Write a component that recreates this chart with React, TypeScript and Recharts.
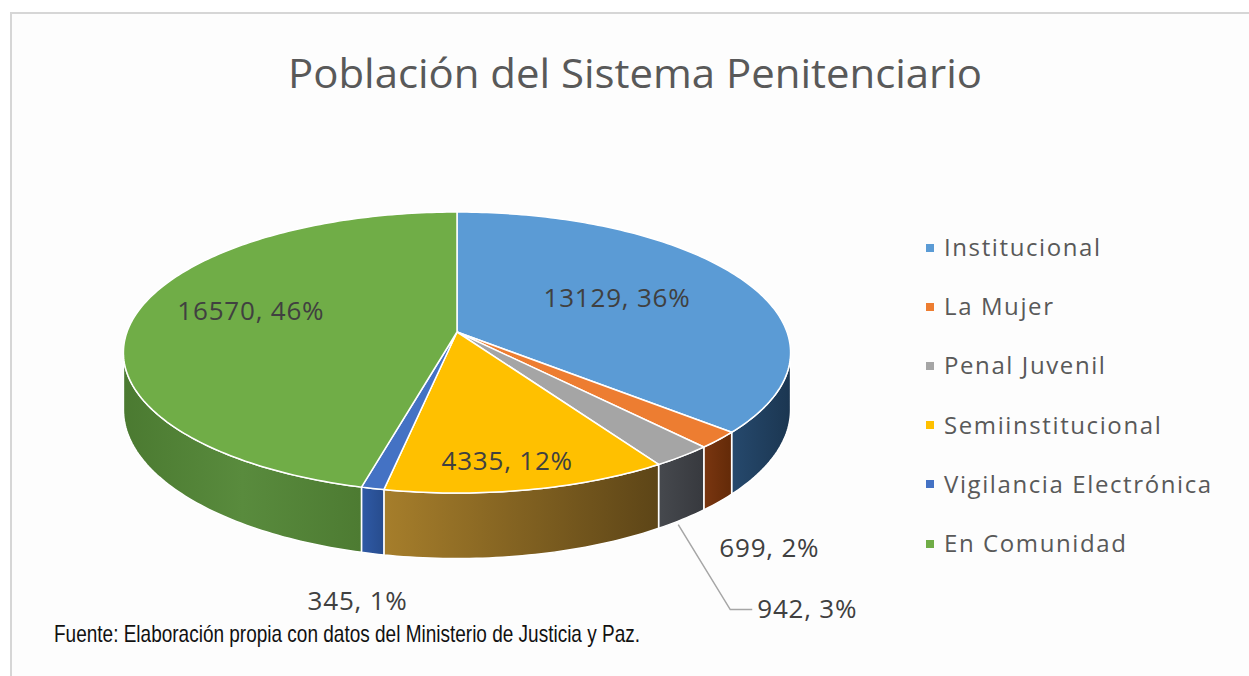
import React from 'react';
import { PieChart, Pie, Cell, Legend } from 'recharts';

const categories = ['Institucional', 'La Mujer', 'Penal Juvenil', 'Semiinstitucional', 'Vigilancia Electrónica', 'En Comunidad'];
const population = [13129, 699, 942, 4335, 345, 16570];
const topColors = ['#5b9bd5', '#ed7d31', '#a5a5a5', '#ffc000', '#4472c4', '#70ad47'];
// stops for the darker 3D walls, left to right
const sideColors = [
  ['#26496d', '#1b3651'],
  ['#7a3610', '#632a08'],
  ['#46494e', '#37393e'],
  ['#a67e2b', '#5d4517'],
  ['#2f5aa6', '#274c8d'],
  ['#4b7a31', '#598b3d', '#4d7b32'],
];

const chartTitle = 'Población del Sistema Penitenciario';
const sourceNote = 'Fuente: Elaboración propia con datos del Ministerio de Justicia y Paz.';

const data = categories.map((name, i) => ({ name, value: population[i] }));

// fake 3D: tilted disc seen in perspective
const TILT = 0.4167;
const PERSP = 0.146;
const DEPTH = 56;
const EDGE = (Math.asin(PERSP) * 180) / Math.PI;

function project(cx: number, cy: number, r: number, f: number, deg: number, drop = 0) {
  const t = (deg * Math.PI) / 180;
  const u = f * Math.cos(t);
  const w = f * Math.sin(t);
  const s = 1 + PERSP * w;
  return [cx + (r * u) / s, cy + (-TILT * r * w + drop) / s];
}

function arc(cx: number, cy: number, r: number, a: number, b: number, drop = 0) {
  const n = Math.max(2, Math.ceil(Math.abs(b - a)) + 1);
  const pts: number[][] = [];
  for (let k = 0; k < n; k++) pts.push(project(cx, cy, r, 1, a + ((b - a) * k) / (n - 1), drop));
  return pts;
}

const toPath = (pts: number[][]) => 'M' + pts.map((p) => p[0].toFixed(2) + ',' + p[1].toFixed(2)).join('L') + 'Z';

const Slice = (props: any) => {
  const { cx, cy, outerRadius, startAngle, endAngle, fill } = props;
  const name = props.name ?? props.payload?.name;
  const i = categories.indexOf(name);
  const lo = Math.min(startAngle, endAngle);
  const hi = Math.max(startAngle, endAngle);
  const walls: React.ReactNode[] = [];
  [-1, 0, 1].forEach((n) => {
    const a = Math.max(lo, -180 + EDGE + 360 * n);
    const b = Math.min(hi, -EDGE + 360 * n);
    if (b > a) {
      const top = arc(cx, cy, outerRadius, a, b);
      const bottom = arc(cx, cy, outerRadius, b, a, DEPTH);
      walls.push(
        <path key={n} d={toPath([...top, ...bottom])} fill={`url(#wall-${i})`} stroke="#ffffff" strokeWidth={1.5} strokeLinejoin="round" />
      );
    }
  });
  const stops = sideColors[i] || ['#666', '#444'];
  return (
    <g>
      <defs>
        <linearGradient id={`wall-${i}`} x1="0" y1="0" x2="1" y2="0">
          {stops.map((c, k) => (
            <stop key={k} offset={k / (stops.length - 1)} stopColor={c} />
          ))}
        </linearGradient>
      </defs>
      {walls}
      <path d={toPath([[cx, cy], ...arc(cx, cy, outerRadius, hi, lo)])} fill={fill} stroke="#ffffff" strokeWidth={1.5} strokeLinejoin="round" />
    </g>
  );
};

// where each data label sits: inside the top (f) or under the wall
const labelSpots = [
  { f: 0.55, dx: 0, dy: -5 },
  { f: 1, wall: true, dx: 51, dy: 45 },
  { f: 1, wall: true, dx: 75, dy: 88, leader: true },
  { f: 0.835, dx: -8, dy: 0 },
  { f: 1, wall: true, dx: -15, dy: 46 },
  { f: 0.59, dx: -15, dy: -12 },
];

const renderLabel = (props: any) => {
  const { cx, cy, outerRadius, midAngle, value, percent } = props;
  const name = props.name ?? props.payload?.name;
  const i = categories.indexOf(name);
  const spot = labelSpots[i];
  const [ax, ay] = project(cx, cy, outerRadius, spot.f, midAngle, spot.wall ? DEPTH : 0);
  const text = `${value}, ${Math.round(percent * 100)}%`;
  const style = { fontFamily: '"Open Sans", sans-serif', fontSize: 26, letterSpacing: 0.8, fill: '#404040' };
  if (spot.leader) {
    return (
      <g key={`lbl-${i}`}>
        <polyline
          points={`${ax - 4},${ay + 5} ${ax + spot.dx - 27},${ay + spot.dy + 2} ${ax + spot.dx - 5},${ay + spot.dy + 2}`}
          fill="none"
          stroke="#a6a6a6"
          strokeWidth={1.5}
        />
        <text x={ax + spot.dx} y={ay + spot.dy} textAnchor="start" dominantBaseline="central" style={style}>
          {text}
        </text>
      </g>
    );
  }
  return (
    <text key={`lbl-${i}`} x={ax + spot.dx} y={ay + spot.dy} textAnchor="middle" dominantBaseline="central" style={style}>
      {text}
    </text>
  );
};

const LegendList = () => (
  <div style={{ fontFamily: '"Open Sans", sans-serif', fontSize: 24, letterSpacing: 1.6, color: '#595959' }}>
    {categories.map((c, i) => (
      <div key={c} style={{ height: 59.2, display: 'flex', alignItems: 'center' }}>
        <span style={{ width: 8, height: 8, background: topColors[i], display: 'inline-block', marginRight: 10, marginTop: 2 }} />
        <span>{c}</span>
      </div>
    ))}
  </div>
);

export default function App() {
  return (
    <div style={{ position: 'absolute', left: 0, top: 0, width: 1249, height: 676, background: '#ffffff', overflow: 'hidden' }}>
      <svg width={1249} height={676} style={{ position: 'absolute', left: 0, top: 0 }}>
        <rect x={11} y={13} width={1250} height={680} fill="#fdfdfd" stroke="#d6d6d6" strokeWidth={2} />
        <text
          x={635}
          y={72}
          textAnchor="middle"
          dominantBaseline="central"
          textLength={694}
          lengthAdjust="spacingAndGlyphs"
          style={{ fontFamily: '"Open Sans", sans-serif', fontSize: 41, fill: '#595959' }}
        >
          {chartTitle}
        </text>
        <text
          x={54}
          y={633}
          dominantBaseline="central"
          textLength={586}
          lengthAdjust="spacingAndGlyphs"
          style={{ fontFamily: '"Liberation Sans Narrow", "Liberation Sans", Arial, sans-serif', fontSize: 24, fill: '#111111' }}
        >
          {sourceNote}
        </text>
      </svg>
      <div style={{ position: 'absolute', left: 0, top: 0 }}>
        <PieChart width={1249} height={676} margin={{ top: 0, right: 0, bottom: 0, left: 0 }}>
          <Pie
            data={data}
            dataKey="value"
            nameKey="name"
            cx={457}
            cy={332}
            outerRadius={330}
            startAngle={90}
            endAngle={-270}
            stroke="#ffffff"
            isAnimationActive={false}
            shape={Slice}
            activeShape={Slice}
            inactiveShape={Slice}
            label={renderLabel}
            labelLine={false}
          >
            {data.map((d, i) => (
              <Cell key={d.name} fill={topColors[i]} />
            ))}
          </Pie>
          <Legend
            layout="vertical"
            align="right"
            verticalAlign="middle"
            content={() => <LegendList />}
            wrapperStyle={{ position: 'absolute', left: 926, top: 217, width: 320 }}
          />
        </PieChart>
      </div>
    </div>
  );
}
